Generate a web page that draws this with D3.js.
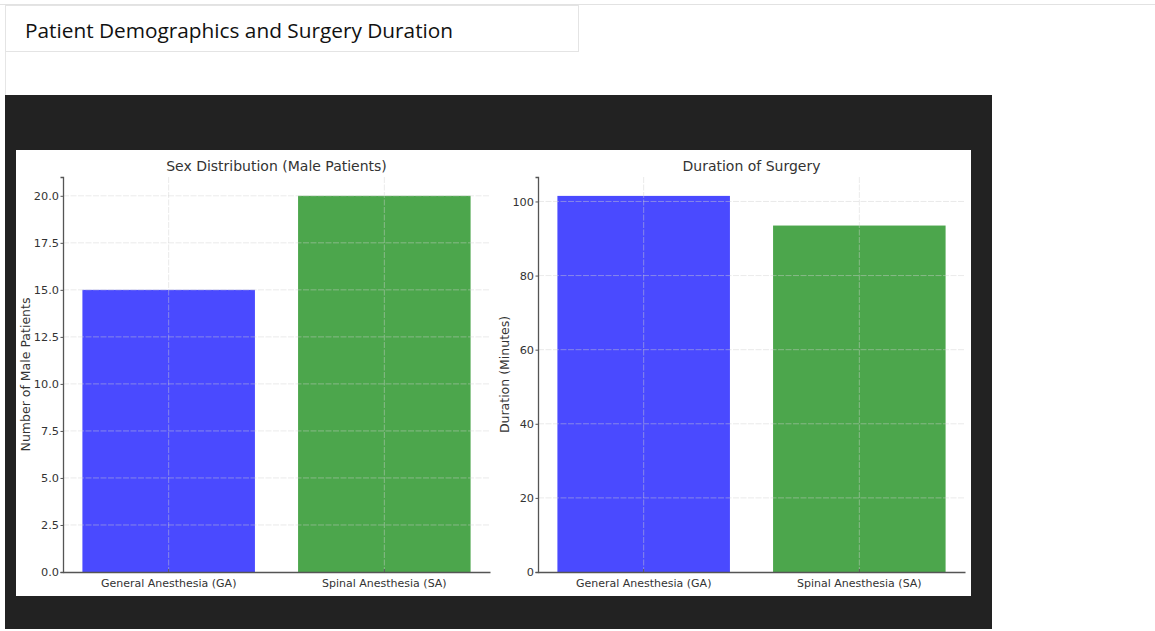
<!DOCTYPE html>
<html>
<head>
<meta charset="utf-8">
<script src="https://cdn.jsdelivr.net/npm/d3@7"></script>
<style>
  html, body { margin: 0; padding: 0; background: #fff; }
  svg { display: block; }
  text { font-family: "DejaVu Sans", sans-serif; fill: #333; }
</style>
</head>
<body>
<svg id="chart" width="1155" height="631"></svg>
<script>
// ---- data ----
const pageTitle = "Patient Demographics and Surgery Duration";
const categories = ["General Anesthesia (GA)", "Spinal Anesthesia (SA)"];
const barColors = ["#4a4aff", "#4ca64c"];

const maleTitle = "Sex Distribution (Male Patients)";
const maleLabel = "Number of Male Patients";
const maleValues = [15, 20];
const maleTicks = [0, 2.5, 5, 7.5, 10, 12.5, 15, 17.5, 20];

const durTitle = "Duration of Surgery";
const durLabel = "Duration (Minutes)";
const durValues = [101.5, 93.5];
const durTicks = [0, 20, 40, 60, 80, 100];

// ---- page frame ----
const svg = d3.select("#chart");
svg.append("line").attr("x1", 0).attr("x2", 1155).attr("y1", 4.5).attr("y2", 4.5)
  .attr("stroke", "#e2e2e2");
svg.append("line").attr("x1", 5.5).attr("x2", 5.5).attr("y1", 51).attr("y2", 95)
  .attr("stroke", "#e6e6e6");
svg.append("rect").attr("x", 5.5).attr("y", 5.5).attr("width", 573).attr("height", 46)
  .attr("fill", "#fff").attr("stroke", "#e4e4e4");
svg.append("text").attr("x", 25).attr("y", 38)
  .style("font-family", "'Open Sans', sans-serif").style("font-size", "20.8px").style("fill", "#111")
  .text(pageTitle);

svg.append("rect").attr("x", 5).attr("y", 95).attr("width", 987).attr("height", 534).attr("fill", "#222");
svg.append("rect").attr("x", 16).attr("y", 150).attr("width", 955).attr("height", 446).attr("fill", "#fff");

// ---- panel drawing ----
function drawPanel(opts) {
  const { x0, x1, y0, y1, values, ticks, yMax, fmt, title, ylabel, ylabelX } = opts;
  const g = svg.append("g");
  const x = d3.scaleBand().domain(categories).range([x0, x1]).paddingInner(0.2).paddingOuter(0.09);
  const y = d3.scaleLinear().domain([0, yMax]).range([y1, y0]);

  // bars
  g.selectAll("rect.bar").data(values).join("rect")
    .attr("class", "bar")
    .attr("x", (d, i) => x(categories[i]))
    .attr("width", x.bandwidth())
    .attr("y", d => y(d))
    .attr("height", d => y(0) - y(d))
    .attr("fill", (d, i) => barColors[i]);

  // grid (drawn over bars, faint)
  g.selectAll("line.hg").data(ticks.filter(t => t > 0)).join("line")
    .attr("x1", x0).attr("x2", x1)
    .attr("y1", d => y(d)).attr("y2", d => y(d))
    .attr("stroke", "#d0d0d0").attr("stroke-opacity", 0.45).attr("stroke-dasharray", "6,1.5");
  g.selectAll("line.vg").data(categories).join("line")
    .attr("x1", d => x(d) + x.bandwidth() / 2).attr("x2", d => x(d) + x.bandwidth() / 2)
    .attr("y1", y0).attr("y2", y1)
    .attr("stroke", "#d0d0d0").attr("stroke-opacity", 0.45).attr("stroke-dasharray", "6,1.5");

  // y axis
  const ya = d3.axisLeft(y).tickValues(ticks).tickFormat(fmt).tickSize(2.5).tickPadding(1.5);
  const yg = g.append("g").attr("transform", `translate(${x0},0)`).call(ya);
  yg.select(".domain").attr("stroke", "#555").attr("stroke-width", 1.3);
  yg.selectAll(".tick line").attr("stroke", "#555");
  yg.selectAll(".tick text").style("font-size", "11.3px").style("fill", "#333")
    .style("font-family", "'DejaVu Sans', sans-serif");

  // x axis
  const xa = d3.axisBottom(x).tickSizeInner(-3).tickSizeOuter(0).tickPadding(7);
  const xg = g.append("g").attr("transform", `translate(0,${y1})`).call(xa);
  xg.select(".domain").attr("stroke", "#555").attr("stroke-width", 1.3);
  xg.selectAll(".tick line").attr("stroke", "#555");
  xg.selectAll(".tick text").style("font-size", "11px").style("fill", "#333")
    .style("font-family", "'DejaVu Sans', sans-serif");

  // title
  g.append("text").attr("x", (x0 + x1) / 2).attr("y", 171).attr("text-anchor", "middle")
    .style("font-size", "14px").style("fill", "#333").text(title);

  // y label
  g.append("text").attr("transform", `translate(${ylabelX},${(y0 + y1) / 2}) rotate(-90)`)
    .attr("text-anchor", "middle").style("font-size", "12.5px").style("fill", "#333").text(ylabel);
}

drawPanel({ x0: 63, x1: 490, y0: 177, y1: 572, values: maleValues, ticks: maleTicks,
  yMax: 21, fmt: d3.format(".1f"), title: maleTitle, ylabel: maleLabel, ylabelX: 30 });
drawPanel({ x0: 538, x1: 965, y0: 177, y1: 572, values: durValues, ticks: durTicks,
  yMax: 106.6, fmt: d3.format("d"), title: durTitle, ylabel: durLabel, ylabelX: 509 });
</script>
</body>
</html>
